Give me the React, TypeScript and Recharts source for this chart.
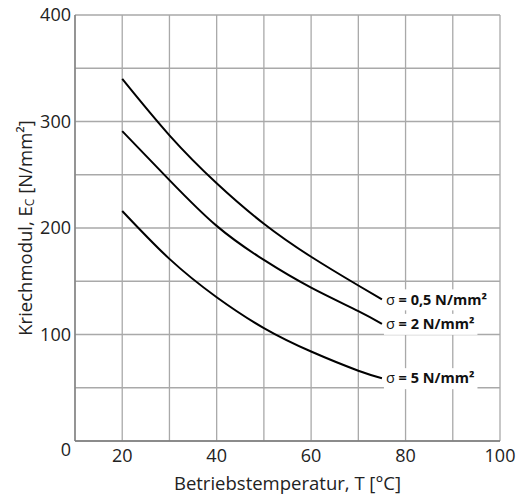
import React, { useLayoutEffect, useRef, useState } from 'react'
import { LineChart, Line, XAxis, YAxis, CartesianGrid } from 'recharts'

// Kriechmodul vs. Betriebstemperatur, drei Spannungsniveaus
const temps = [20, 30, 40, 50, 60, 70, 75]
const sigma05 = [340, 287, 242, 204, 173, 146, 133]
const sigma2 = [291, 245, 202, 170, 144, 122, 110]
const sigma5 = [216, 171, 135, 106, 84, 66, 59]

const seriesLabels = ['0,5 N/mm²', '2 N/mm²', '5 N/mm²']

const xTicks = [10, 20, 30, 40, 50, 60, 70, 80, 90, 100]
const yTicks = [0, 50, 100, 150, 200, 250, 300, 350, 400]

const data = temps.map((t, i) => ({
  t,
  s05: sigma05[i],
  s2: sigma2[i],
  s5: sigma5[i]
}))

const FONT = '"Open Sans", "Noto Sans", sans-serif'
const GRID = '#a9a9a9'
const TEXT = '#222'

const XTick = ({ x, y, payload }: any) => {
  if (payload.value % 20 !== 0) return <g />
  return (
    <text x={x} y={y} dy="0.72em" textAnchor="middle" fontSize={18} fontFamily={FONT} fill={TEXT}>
      {payload.value}
    </text>
  )
}

const YTick = ({ x, y, payload }: any) => {
  if (payload.value % 100 !== 0) return <g />
  const shift = payload.value === 0 ? 9 : 0
  return (
    <text x={x + 4} y={y + shift} dy="0.36em" textAnchor="end" fontSize={18} fontFamily={FONT} fill={TEXT}>
      {payload.value}
    </text>
  )
}

const EndLabel = ({ x, y, text }: { x: number; y: number; text: string }) => {
  const ref = useRef<SVGTextElement>(null)
  const [w, setW] = useState(0)
  useLayoutEffect(() => {
    if (ref.current) setW(ref.current.getComputedTextLength())
  }, [])
  const tx = x + 4
  return (
    <g>
      <rect x={tx - 2} y={y - 10} width={w + 5} height={21} fill="#fff" />
      <text ref={ref} x={tx} y={y} dy="0.36em" fontSize={14.5} fontFamily={FONT} fill="#111">
        <tspan>σ</tspan>
        <tspan fontWeight="bold"> = {text}</tspan>
      </text>
    </g>
  )
}

const makeLabel = (text: string) => (props: any) => {
  if (props.index !== temps.length - 1) return <g key={props.index} />
  return <EndLabel key={props.index} x={props.x} y={props.y} text={text} />
}

const YTitle = ({ viewBox }: any) => {
  const cx = viewBox.x + 24
  const cy = viewBox.y + viewBox.height / 2
  return (
    <text
      x={cx}
      y={cy}
      transform={`rotate(-90, ${cx}, ${cy})`}
      textAnchor="middle"
      dominantBaseline="central"
      fontSize={18.5}
      fontFamily={FONT}
      fill={TEXT}
    >
      Kriechmodul, E<tspan fontSize={12} dy={5}>C</tspan>
      <tspan dy={-5}> [N/mm²]</tspan>
    </text>
  )
}

export default function App() {
  return (
    <div style={{ position: 'absolute', left: 0, top: 0, background: '#fff' }}>
      <LineChart
        width={518}
        height={498}
        data={data}
        margin={{ top: 15, right: 18, left: 0, bottom: 0 }}
      >
        <CartesianGrid stroke={GRID} strokeWidth={1.3} />
        <XAxis
          dataKey="t"
          type="number"
          domain={[10, 100]}
          ticks={xTicks}
          interval={0}
          tickLine={false}
          axisLine={{ stroke: '#7a7a7a', strokeWidth: 1.3 }}
          tick={<XTick />}
          height={57}
          label={{
            value: 'Betriebstemperatur, T [°C]',
            position: 'insideBottom',
            offset: 8,
            fontSize: 18.5,
            fontFamily: FONT,
            fill: TEXT
          }}
        />
        <YAxis
          type="number"
          domain={[0, 400]}
          ticks={yTicks}
          interval={0}
          tickLine={false}
          axisLine={{ stroke: '#7a7a7a', strokeWidth: 1.3 }}
          tick={<YTick />}
          width={75}
          label={<YTitle />}
        />
        <Line
          type="natural"
          dataKey="s05"
          stroke="#000"
          strokeWidth={2}
          dot={false}
          isAnimationActive={false}
          label={makeLabel(seriesLabels[0])}
        />
        <Line
          type="natural"
          dataKey="s2"
          stroke="#000"
          strokeWidth={2}
          dot={false}
          isAnimationActive={false}
          label={makeLabel(seriesLabels[1])}
        />
        <Line
          type="natural"
          dataKey="s5"
          stroke="#000"
          strokeWidth={2}
          dot={false}
          isAnimationActive={false}
          label={makeLabel(seriesLabels[2])}
        />
      </LineChart>
    </div>
  )
}
